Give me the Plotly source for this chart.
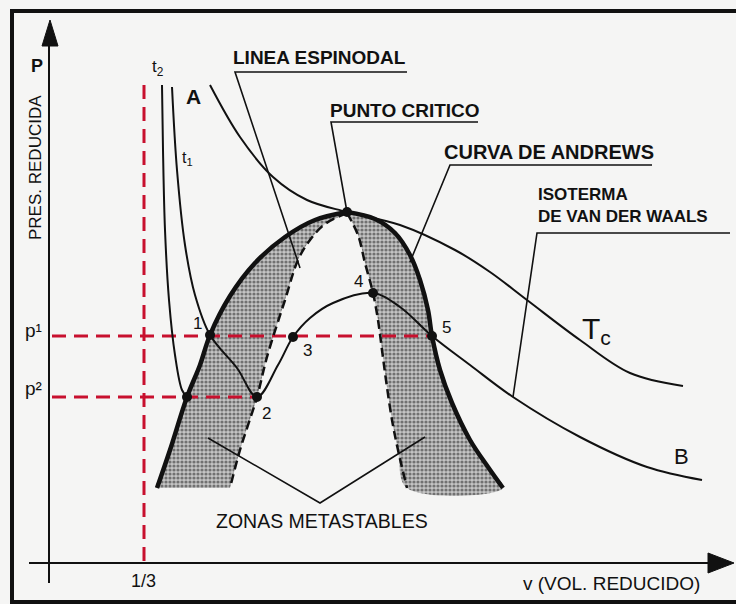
import plotly.graph_objects as go

# diagram geometry (pixel units, y grows downward)
andrews_left_x = [157, 170, 187, 200, 210, 230, 255, 285, 315, 347]
andrews_left_y = [488, 450, 397, 365, 335, 296, 263, 237, 220, 212]
andrews_right_x = [347, 375, 395, 410, 420, 428, 432, 440, 452, 470, 488, 503]
andrews_right_y = [212, 219, 233, 255, 280, 310, 336, 370, 403, 440, 467, 488]

spin_left_x = [347, 325, 310, 298, 285, 267, 257, 240, 230]
spin_left_y = [213, 224, 240, 260, 300, 357, 397, 450, 488]
spin_right_x = [347, 358, 365, 373, 378, 382, 386, 392, 398, 407]
spin_right_y = [213, 235, 263, 293, 320, 350, 380, 420, 450, 488]

t2_x = [162, 163, 165, 169, 175, 182, 187]
t2_y = [85, 150, 230, 300, 355, 390, 397]

t1_x = [172, 177, 185, 195, 210, 237, 257, 278, 293, 310, 333, 373, 400, 432, 470, 513, 580, 647, 702]
t1_y = [87, 170, 245, 295, 335, 368, 397, 365, 337, 318, 303, 293, 307, 336, 365, 397, 437, 467, 480]

tc_x = [210, 240, 273, 307, 347, 400, 455, 490, 527, 580, 630, 683]
tc_y = [85, 137, 177, 200, 212, 225, 250, 272, 300, 340, 373, 386]

pts_x = [187, 210, 257, 293, 373, 432, 347]
pts_y = [397, 335, 397, 337, 293, 336, 212]

p1, p2, v13 = 336, 397, 144

labels = [
    ("LINEA ESPINODAL", 319, 57, 19, True, "center"),
    ("PUNTO CRITICO", 405, 110, 19, True, "center"),
    ("CURVA DE ANDREWS", 549, 152, 20, True, "center"),
    ("ISOTERMA<br>DE VAN DER WAALS", 536, 205, 17, True, "left"),
    ("ZONAS METASTABLES", 322, 521, 19.5, False, "center"),
    ("v (VOL. REDUCIDO)", 611, 583, 19, False, "center"),
    ("1/3", 143, 581, 18, False, "center"),
    ("p¹", 33, 330, 19, False, "center"),
    ("p²", 33, 388, 19, False, "center"),
    ("P", 37, 66, 18, True, "center"),
    ("A", 193, 96, 21, True, "center"),
    ("B", 681, 456, 22, False, "center"),
    ("T<sub>c</sub>", 596, 330, 30, False, "center"),
    ("t<sub>2</sub>", 158, 68, 17, False, "center"),
    ("t<sub>1</sub>", 187, 158, 16, False, "center"),
    ("1", 197, 323, 17, False, "center"),
    ("2", 266, 413, 17, False, "center"),
    ("3", 307, 350, 17, False, "center"),
    ("4", 358, 281, 17, False, "center"),
    ("5", 446, 327, 17, False, "center"),
]

leaders = [
    ([407, 235, 300], [72, 72, 268]),
    ([478, 331, 347], [122, 122, 212]),
    ([652, 450, 410], [165, 165, 262]),
    ([730, 537, 513], [233, 233, 397]),
    ([208, 320, 425], [438, 503, 437]),
]

fig = go.Figure()

shade = dict(shape=".", fgcolor="#1e1e1e", bgcolor="#c4c4c4", size=4, solidity=0.5)
fig.add_trace(go.Scatter(x=andrews_left_x + spin_left_x, y=andrews_left_y + spin_left_y,
                         fill="toself", fillpattern=shade, line=dict(width=0, shape="spline"),
                         mode="lines", hoverinfo="skip"))
fig.add_trace(go.Scatter(x=spin_right_x + andrews_right_x[::-1], y=spin_right_y + andrews_right_y[::-1],
                         fill="toself", fillpattern=shade, line=dict(width=0, shape="spline"),
                         mode="lines", hoverinfo="skip"))

red = dict(color="#c8102e", width=3, dash="14px,8px")
fig.add_trace(go.Scatter(x=[v13, v13], y=[85, 563], mode="lines", line=red))
fig.add_trace(go.Scatter(x=[52, 432], y=[p1, p1], mode="lines", line=red))
fig.add_trace(go.Scatter(x=[52, 257], y=[p2, p2], mode="lines", line=red))

for xs, ys in leaders:
    fig.add_trace(go.Scatter(x=xs, y=ys, mode="lines", line=dict(color="#111", width=1.6)))

thin = dict(color="#111", width=2, shape="spline")
for xs, ys in [(t2_x, t2_y), (t1_x, t1_y), (tc_x, tc_y)]:
    fig.add_trace(go.Scatter(x=xs, y=ys, mode="lines", line=thin))

dash = dict(color="#111", width=2.5, dash="9px,5px", shape="spline")
fig.add_trace(go.Scatter(x=spin_left_x, y=spin_left_y, mode="lines", line=dash))
fig.add_trace(go.Scatter(x=spin_right_x, y=spin_right_y, mode="lines", line=dash))

thick = dict(color="#111", width=4.5, shape="spline")
fig.add_trace(go.Scatter(x=andrews_left_x, y=andrews_left_y, mode="lines", line=thick))
fig.add_trace(go.Scatter(x=andrews_right_x, y=andrews_right_y, mode="lines", line=thick))

fig.add_trace(go.Scatter(x=pts_x, y=pts_y, mode="markers", marker=dict(color="#111", size=10)))

# axes with arrow heads
axis = dict(color="#111", width=2)
fig.add_trace(go.Scatter(x=[49, 49], y=[40, 583], mode="lines", line=axis))
fig.add_trace(go.Scatter(x=[29, 712], y=[563, 563], mode="lines", line=axis))
fig.add_trace(go.Scatter(x=[50, 42, 58, 50], y=[20, 46, 46, 20], fill="toself", fillcolor="#111",
                         mode="lines", line=dict(color="#111", width=1)))
fig.add_trace(go.Scatter(x=[734, 708, 708, 734], y=[563, 553, 573, 563], fill="toself", fillcolor="#111",
                         mode="lines", line=dict(color="#111", width=1)))

for text, x, y, size, bold, anchor in labels:
    if bold:
        text = "<br>".join(f"<b>{part}</b>" for part in text.split("<br>"))
    fig.add_annotation(x=x, y=y, text=text, showarrow=False,
                       xanchor=anchor, align=anchor,
                       font=dict(family="Liberation Sans, Arial", size=size, color="#111"))
fig.add_annotation(x=35, y=168, text="PRES. REDUCIDA", textangle=-90, showarrow=False,
                   font=dict(family="Liberation Sans, Arial", size=17, color="#111"))

# picture frame
frame = dict(color="#111", width=4)
fig.add_shape(type="line", x0=10, x1=736, y0=11, y1=11, line=frame)
fig.add_shape(type="line", x0=12, x1=12, y0=9, y1=604, line=frame)
fig.add_shape(type="line", x0=10, x1=736, y0=602, y1=602, line=frame)

fig.update_layout(width=736, height=604, margin=dict(l=0, r=0, t=0, b=0),
                  showlegend=False, plot_bgcolor="#f5f5f4", paper_bgcolor="#f5f5f4")
fig.update_xaxes(range=[0, 736], visible=False)
fig.update_yaxes(range=[604, 0], visible=False)

fig.write_html("out.html", config={"displayModeBar": False},
               post_script="document.body.style.margin='0';document.body.style.overflow='hidden';")
